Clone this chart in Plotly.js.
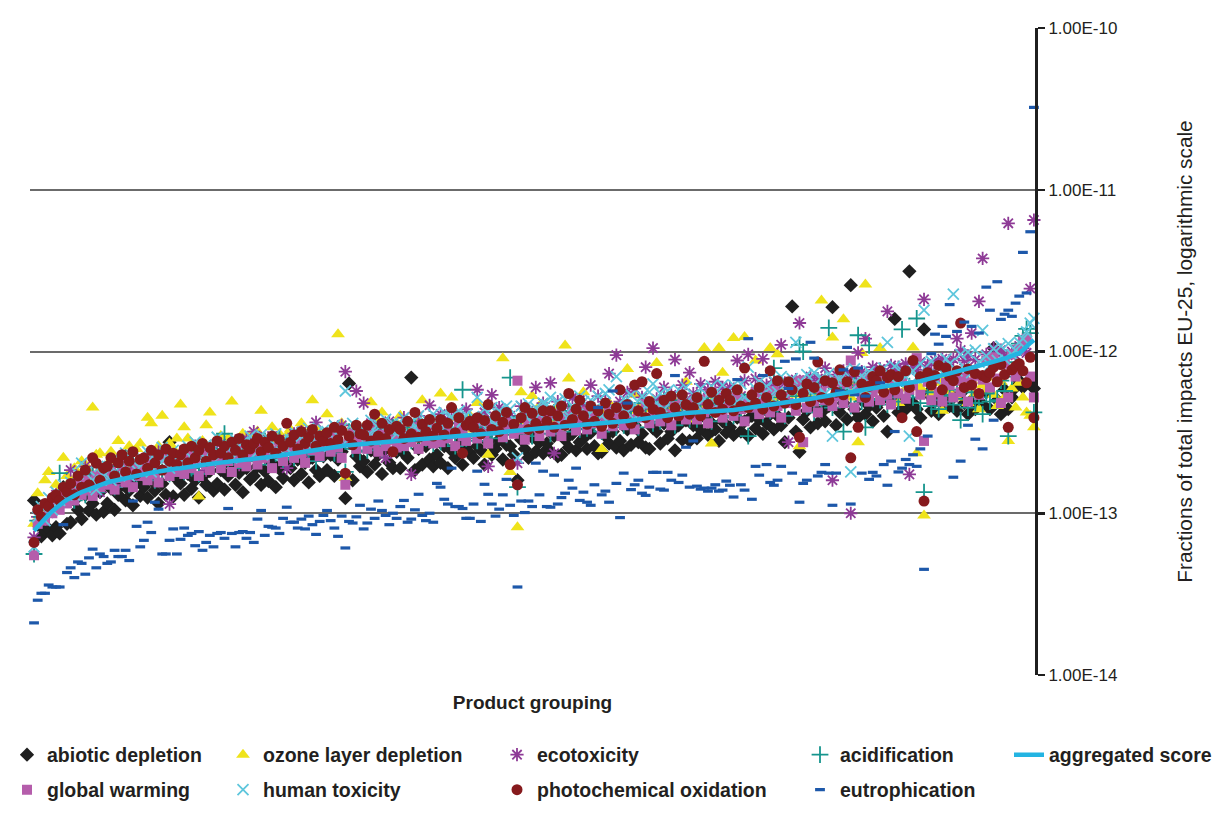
<!DOCTYPE html>
<html><head><meta charset="utf-8">
<script src="https://cdn.plot.ly/plotly-3.0.1.min.js"></script>
<style>html,body{margin:0;padding:0;background:#fff}#chart{width:1215px;height:823px}</style>
</head><body><div id="chart"></div>
<script>
// values in units of 1e-13 (fractions of total impacts EU-25)
const UNIT = 1e-13;
const yTickVals = [1e-14, 1e-13, 1e-12, 1e-11, 1e-10];
const yTickText = ['1.00E-14', '1.00E-13', '1.00E-12', '1.00E-11', '1.00E-10'];

const aggregated = [
0.78,0.83,0.88,0.93,0.98,1.03,1.08,1.13,1.17,1.21,
1.25,1.29,1.32,1.35,1.38,1.41,1.44,1.47,1.5,1.53,
1.55,1.57,1.59,1.61,1.63,1.65,1.67,1.69,1.71,1.73,
1.75,1.77,1.78,1.8,1.81,1.83,1.84,1.86,1.87,1.89,
1.9,1.92,1.93,1.95,1.96,1.98,1.99,2.0,2.02,2.03,
2.04,2.06,2.07,2.08,2.1,2.11,2.12,2.14,2.15,2.16,
2.17,2.19,2.2,2.21,2.22,2.24,2.25,2.27,2.29,2.31,
2.33,2.35,2.37,2.39,2.41,2.43,2.45,2.47,2.49,2.51,
2.53,2.55,2.57,2.59,2.61,2.62,2.63,2.65,2.66,2.67,
2.68,2.7,2.71,2.72,2.74,2.75,2.76,2.77,2.79,2.8,
2.81,2.82,2.83,2.85,2.86,2.87,2.88,2.89,2.9,2.91,
2.92,2.93,2.94,2.95,2.96,2.97,2.98,2.99,3.0,3.01,
3.02,3.03,3.05,3.07,3.09,3.11,3.13,3.16,3.18,3.2,
3.22,3.24,3.26,3.27,3.29,3.3,3.32,3.33,3.35,3.36,
3.38,3.39,3.41,3.42,3.44,3.45,3.47,3.48,3.5,3.52,
3.53,3.55,3.56,3.57,3.58,3.59,3.6,3.61,3.62,3.64,
3.66,3.69,3.72,3.75,3.78,3.81,3.84,3.87,3.9,3.93,
3.96,3.99,4.02,4.05,4.08,4.11,4.13,4.15,4.17,4.18,
4.19,4.2,4.21,4.22,4.23,4.24,4.26,4.28,4.3,4.31,
4.33,4.35,4.38,4.41,4.44,4.47,4.5,4.53,4.56,4.6,
4.63,4.66,4.7,4.74,4.78,4.82,4.86,4.9,4.94,4.98,
5.02,5.06,5.1,5.15,5.2,5.25,5.3,5.35,5.4,5.45,
5.5,5.55,5.6,5.65,5.7,5.75,5.8,5.85,5.9,5.95,
6.0,6.04,6.08,6.12,6.16,6.2,6.24,6.28,6.32,6.36,
6.4,6.48,6.56,6.65,6.75,6.85,6.95,7.05,7.15,7.25,
7.35,7.45,7.55,7.65,7.75,7.85,7.95,8.05,8.15,8.25,
8.35,8.45,8.6,8.75,8.9,9.05,9.2,9.35,9.55,9.75,
10.2,10.8,11.3,11.8];

const abiotic = [
1.2,0.85,0.72,0.78,0.8,0.73,0.82,0.75,1.45,0.86,
0.88,1.2,1.05,0.92,1.3,1.04,1.15,0.98,1.35,1.02,
1.15,1.42,1.05,1.3,1.5,1.2,1.38,1.12,1.55,1.28,
1.45,1.25,1.6,1.38,1.15,1.52,1.3,2.75,1.27,1.62,
1.53,1.3,1.75,1.42,1.6,1.25,1.68,1.5,1.82,1.38,
1.52,1.85,1.4,1.7,1.95,1.5,1.78,1.35,1.9,1.62,
1.7,1.95,1.5,1.82,1.58,2.05,1.45,1.88,1.65,2.0,
1.9,1.6,2.15,1.75,2.05,1.55,2.2,1.85,1.7,2.25,
1.85,2.3,1.7,2.15,2.4,1.24,6.35,1.6,2.25,1.95,
2.1,1.8,2.45,2.0,2.3,1.75,2.5,2.05,1.9,2.4,
1.9,2.35,2.2,6.9,1.85,2.5,2.0,2.6,2.15,1.95,
2.3,2.05,2.6,1.9,2.45,2.2,2.7,2.0,2.55,2.35,
2.2,2.6,2.45,2.0,2.75,2.3,2.5,2.85,2.15,2.65,
2.6,2.3,1.6,2.85,2.5,2.2,2.95,2.4,2.75,2.35,
2.7,2.4,3.0,2.25,2.3,2.85,2.55,3.1,2.45,2.75,
2.9,2.5,3.15,2.6,2.35,2.4,3.0,2.7,3.2,2.55,
2.8,2.45,3.3,2.65,3.5,2.75,3.1,2.55,2.5,3.35,
3.2,2.7,3.6,2.9,3.2,2.45,3.5,2.85,3.75,2.8,
3.5,2.9,3.3,3.95,3.05,3.6,3.3,2.8,3.7,3.15,
3.4,3.05,3.9,3.2,3.7,3.0,4.0,3.35,3.8,3.1,
3.6,4.1,3.3,4.0,3.5,2.75,3.9,19,3.2,2.4,
3.8,4.3,3.4,4.5,3.6,4.2,3.7,4.6,18.8,3.5,
4.2,4.8,3.8,25.7,4.4,3.9,5.0,4.1,4.6,3.7,
4.5,4.9,4.0,3.2,5.1,15.9,4.2,4.8,4.4,31.3,
4.8,4.4,3.9,13.7,5.5,4.3,4.9,4.1,5.0,4.6,
4.6,5.2,4.3,5.5,4.8,4.1,5.0,4.4,5.3,4.7,
5.6,4.4,10.5,5.0,4.1,5.8,4.4,5.2,6.0,6.6,
6.0,6.4,6.6,5.9];

const ozoneDepletion = [
0.86,1.33,1.0,1.6,1.8,1.25,1.5,1.4,2.2,1.7,
1.6,1.9,1.55,2.1,2.0,1.8,4.5,2.3,2.35,1.9,
2.0,2.4,2.1,2.8,2.0,2.3,2.6,1.9,2.5,2.7,
2.2,3.9,3.6,2.4,2.6,4.0,2.3,2.7,2.5,2.9,
4.7,3.4,2.9,2.4,2.6,1.27,2.8,3.5,4.2,2.5,
2.7,3.0,2.4,2.9,4.9,2.6,2.8,3.1,2.5,3.0,
2.6,3.2,4.3,2.9,2.5,3.4,2.8,3.1,2.7,3.0,
3.3,3.0,2.8,3.6,2.9,3.2,5.0,3.4,3.1,2.7,
4.1,3.0,3.3,12.8,3.6,1.65,3.2,2.9,3.5,3.1,
3.4,3.0,4.85,3.3,3.7,4.2,3.1,3.5,2.9,3.6,
4.0,3.2,3.6,3.4,3.0,3.8,5.0,3.3,3.7,3.5,
3.2,5.5,3.6,3.4,5.2,3.9,3.3,3.7,3.5,4.0,
3.3,4.8,3.6,3.9,2.3,3.5,3.8,4.2,9.1,3.6,
1.8,3.4,0.82,5.6,3.7,4.0,5.3,3.5,4.6,3.9,
4.2,3.6,4.4,3.8,4.0,10.9,6.8,4.3,4.1,4.5,
5.6,4.0,4.6,3.8,4.3,2.5,4.2,4.8,4.0,4.4,
4.1,4.6,7.8,4.3,5.4,4.5,4.2,4.8,4.4,5.0,
8.5,4.6,4.9,4.4,5.2,4.7,4.3,5.0,6.5,3.8,
4.6,5.0,4.4,10.5,4.8,2.7,5.2,10.5,7.4,4.7,
5.0,12.1,4.6,5.3,12.3,4.9,5.5,8.8,4.7,5.1,
5.3,10.5,5.0,9.6,5.6,5.2,4.8,5.8,5.4,2.6,
5.6,5.1,6.0,5.4,5.8,20.7,5.2,6.2,12.2,5.7,
5.4,15.8,5.9,5.2,6.1,2.75,9.8,26,5.6,6.3,
5.8,10.5,5.4,6.6,5.7,6.0,4.8,6.4,5.9,6.2,
10.6,2.35,6.0,0.97,6.8,5.5,7.2,6.4,4.3,7.0,
5.6,6.4,5.2,7.0,5.9,4.8,6.6,5.5,4.4,6.2,
5.8,6.9,5.4,4.6,6.5,5.2,2.8,5.9,4.5,6.4,
5.2,4.2,4.0,3.4];

const ecotoxicity = [
0.71,0.95,0.9,1.1,1.0,1.15,1.3,1.25,1.2,1.4,
1.85,1.3,1.6,1.45,1.95,1.4,1.75,1.55,1.35,1.8,
1.65,1.95,1.5,2.1,1.7,2.25,1.6,1.9,2.05,1.75,
2.0,1.7,2.25,1.9,2.4,1.8,2.3,1.14,2.2,1.95,
2.1,2.45,1.9,2.3,2.6,2.0,2.4,1.85,2.55,2.2,
2.2,2.7,2.1,2.5,2.35,2.8,2.0,2.6,2.9,2.3,
3.2,2.4,2.9,2.2,2.7,3.0,2.45,2.85,2.3,1.9,
2.7,3.1,2.4,3.2,2.3,2.9,2.6,3.65,2.5,3.0,
3.0,2.6,3.3,2.75,3.5,7.5,2.7,3.2,5.7,2.9,
4.8,3.1,3.6,2.8,3.4,3.0,2.2,3.7,2.9,3.5,
3.3,3.9,3.0,1.74,3.6,4.0,3.2,3.4,4.65,3.1,
3.4,4.1,3.2,3.8,4.3,3.1,3.9,3.3,4.4,3.6,
3.7,5.8,3.4,4.2,1.95,5.4,3.6,4.5,3.3,4.1,
4.0,3.5,2.04,4.6,3.8,4.3,3.6,6.0,4.0,4.8,
4.3,6.4,2.35,4.9,3.9,4.6,4.1,5.2,3.8,5.0,
4.6,4.0,6.2,4.4,5.3,3.9,4.9,7.3,4.2,9.5,
4.9,4.2,5.6,4.5,5.9,4.3,5.2,8.0,4.6,10.5,
5.1,4.5,6.0,4.8,5.4,8.9,4.6,6.2,5.0,7.4,
5.5,4.7,6.3,5.0,5.8,4.6,6.5,5.2,6.0,4.8,
6.0,5.0,8.8,5.3,6.6,9.6,5.1,6.8,5.5,9.0,
6.2,5.9,6.5,6.0,11,6.4,2.75,6.1,6.7,15,
6.5,6.2,7.0,6.4,6.8,6.3,7.9,6.6,1.6,7.2,
6.8,7.6,7.3,1.0,7.0,9.8,7.5,12,7.1,8.0,
7.4,7.8,7.2,17.7,8.2,7.6,8.0,7.3,8.4,1.74,
8.0,7.7,8.6,21,8.2,7.5,8.8,8.4,9.0,8.1,
8.6,9.0,12,10.2,8.8,9.4,13,8.9,20.4,37.6,
9.6,9.0,10.5,9.8,10.2,9.4,62,10.0,9.5,10.8,
10.5,9.8,24.5,65];

const acidification = [
0.56,0.9,0.95,1.0,1.05,1.1,1.2,1.77,1.3,1.25,
1.4,1.2,1.6,1.7,1.3,1.55,1.75,1.35,1.65,1.5,
1.6,1.85,1.45,1.95,1.7,2.2,1.5,2.0,1.65,2.05,
1.95,1.7,2.2,1.6,2.1,1.8,2.3,1.75,2.2,1.9,
2.1,1.8,2.4,1.9,2.25,1.75,2.35,2.0,2.5,1.95,
2.25,2.5,3.1,2.0,2.6,1.9,2.45,2.7,2.1,2.55,
2.1,2.6,2.25,2.8,2.0,2.55,2.35,2.9,2.15,2.7,
2.6,2.2,2.9,2.4,2.95,2.3,2.75,2.1,2.85,2.5,
2.7,3.0,2.35,3.1,2.6,1.8,3.2,2.5,3.0,2.4,
2.9,2.45,3.2,2.6,3.35,2.5,3.1,2.7,3.4,2.55,
3.1,2.6,3.4,2.8,3.55,2.65,3.25,2.9,3.5,2.7,
3.2,2.75,3.5,2.95,3.3,2.6,3.6,5.8,2.9,3.7,
3.4,2.8,3.75,3.0,3.5,2.9,3.9,3.15,3.6,3.05,
6.9,3.3,1.45,3.95,3.1,3.7,3.0,4.1,3.35,3.8,
3.8,3.1,4.2,3.4,3.9,3.2,4.3,3.5,4.0,3.3,
3.9,3.35,4.4,3.6,4.1,3.2,4.5,3.7,4.2,3.4,
4.1,3.5,4.6,3.8,4.3,3.4,4.8,3.9,4.5,3.6,
4.3,3.7,4.9,4.0,4.6,3.5,5.0,4.1,4.7,3.8,
4.5,3.8,5.1,4.1,4.8,3.7,5.2,4.2,4.9,3.9,
4.7,4.0,5.3,4.3,4.9,3.0,5.4,4.4,5.0,4.1,
4.9,4.3,7.9,4.5,5.2,4.0,5.6,4.6,5.3,11,
10.0,4.6,5.5,4.2,5.8,4.7,5.4,14,4.5,5.9,
5.8,3.2,6.0,4.6,6.2,12.6,4.9,3.4,10.9,5.1,
6.3,5.0,6.6,4.7,6.8,5.2,4.9,13.7,5.4,6.1,
5.2,16,4.8,1.35,5.6,4.6,5.0,4.4,5.4,4.9,
5.3,4.7,5.8,3.76,5.1,4.5,5.6,4.8,5.2,4.1,
5.5,4.9,6.2,5.0,6.6,5.7,3.0,7.0,8.6,11.2,
12.5,13.8,13,4.2];

const globalWarming = [
0.55,0.86,0.95,0.9,1.08,1.0,1.2,1.05,1.3,1.15,
1.35,1.2,1.5,1.3,1.6,1.4,1.28,1.7,1.45,1.55,
1.5,1.8,1.4,1.65,1.95,1.55,1.75,1.45,1.9,1.7,
1.9,1.6,2.1,1.75,1.55,2.2,1.85,1.7,2.05,1.8,
2.05,1.75,2.3,1.9,2.15,1.7,2.4,2.0,1.85,2.25,
2.2,1.9,2.5,2.1,1.8,2.35,2.05,2.6,1.95,2.3,
2.4,2.0,2.65,2.2,2.5,1.9,2.35,2.7,2.1,2.55,
2.5,2.2,2.8,2.35,2.05,2.65,2.45,2.9,2.25,2.7,
2.8,2.4,3.0,2.55,2.2,1.5,2.75,3.1,2.5,2.9,
2.95,2.5,3.2,2.7,2.4,3.05,2.6,3.3,2.85,2.55,
3.25,2.6,3.0,2.75,3.4,2.5,3.15,2.8,3.5,2.7,
3.3,2.75,3.55,2.9,3.1,2.6,3.45,3.0,2.8,3.6,
3.45,2.9,3.7,3.1,2.7,3.55,3.25,3.8,2.95,3.4,
3.6,3.1,6.6,3.3,2.85,3.75,3.4,3.95,3.0,3.65,
3.85,3.2,4.1,3.45,3.0,3.9,3.6,4.2,3.25,3.7,
4.25,3.3,3.9,3.6,4.3,3.1,3.75,4.4,3.45,4.0,
4.4,3.5,4.6,3.8,3.3,4.2,3.9,4.75,3.6,4.3,
4.55,3.7,4.9,4.1,3.5,4.6,4.0,5.1,3.8,4.4,
4.9,3.8,5.05,4.2,3.6,5.6,4.3,5.2,3.9,4.7,
5.1,4.0,5.4,4.4,3.7,4.9,4.5,5.6,4.1,5.0,
5.5,4.2,5.7,4.6,3.9,5.2,4.8,6.0,4.3,6.6,
2.75,4.5,6.1,4.9,4.2,5.6,5.0,6.4,4.6,5.3,
6.5,4.8,6.3,8.8,4.5,5.9,5.2,6.8,4.9,5.6,
6.0,5.0,6.6,5.4,4.7,6.2,5.5,6.9,5.1,5.8,
6.2,9.1,5.4,2.8,6.5,5.0,6.8,5.6,4.9,6.4,
6.2,5.2,6.6,5.6,6.9,4.9,6.4,7.1,5.4,6.7,
8.8,6.0,9.2,6.8,4.8,8.4,5.2,9.6,7.0,10.4,
11.5,12,7.0,5.2];

const humanToxicity = [
0.62,0.95,1.1,0.9,1.25,1.05,1.35,1.2,1.5,1.3,
1.55,1.3,1.75,2.04,1.45,1.85,1.6,1.4,1.95,1.7,
1.95,1.6,2.2,1.75,2.0,2.35,1.7,2.1,1.85,2.25,
2.1,2.4,1.8,2.3,2.0,2.55,2.2,1.9,2.45,2.15,
2.3,2.05,2.6,2.2,2.75,2.4,2.1,2.65,2.35,2.5,
2.95,2.3,2.7,2.5,2.2,2.85,2.4,2.75,2.6,3.0,
2.7,2.4,3.05,2.55,2.9,2.3,3.1,2.65,2.85,2.5,
2.85,3.2,2.6,3.0,2.7,3.35,2.8,3.1,2.6,3.25,
3.2,2.8,3.5,3.0,3.35,5.7,2.9,3.6,3.15,3.4,
3.4,3.0,3.75,3.2,3.55,2.9,3.8,3.3,3.6,3.1,
3.55,3.9,3.2,3.7,3.4,4.0,3.3,3.8,3.5,4.1,
3.9,3.4,4.2,3.6,3.95,3.3,4.3,3.7,4.05,3.5,
3.95,5.2,3.6,4.4,3.8,4.5,3.55,4.3,3.9,4.6,
4.4,3.8,2.2,4.6,4.0,4.75,3.7,4.5,4.1,4.8,
4.7,5.2,3.9,4.9,4.2,5.1,4.0,4.6,4.3,5.3,
4.9,4.1,5.0,4.4,5.3,4.0,5.5,5.8,4.5,7.0,
4.5,5.1,4.2,5.4,4.7,4.1,5.3,4.6,5.6,6.3,
4.8,5.5,4.4,5.7,5.0,4.3,5.8,4.9,6.0,4.6,
5.4,4.7,5.9,5.1,4.6,6.1,5.3,4.8,6.2,5.0,
5.5,6.2,4.9,6.3,5.2,8.0,4.8,5.9,6.5,5.4,
6.1,5.3,6.6,5.6,7.0,5.1,6.2,6.8,11.4,5.8,
6.3,7.2,5.6,7.4,6.0,6.9,5.5,7.3,3.0,6.6,
6.7,7.6,6.0,1.8,7.8,6.3,7.1,5.9,7.5,6.5,
7.2,6.4,7.9,11.4,6.8,8.1,6.5,7.6,7.0,3.0,
7.6,6.9,8.4,18,7.2,8.7,6.8,8.0,7.4,9.0,
8.4,22.6,7.6,9.6,8.0,9.9,7.4,10.2,8.6,13.5,
9.4,8.2,10.4,8.8,10.8,9.0,11.2,9.6,10.2,11.4,
12.0,13.2,15,16];

const photochemOxidation = [
0.66,1.05,0.95,1.15,1.1,1.25,1.3,1.2,1.45,1.35,
1.53,1.3,1.7,1.45,1.85,1.5,2.2,2.04,1.6,1.9,
1.95,2.2,1.7,2.05,2.3,1.8,2.1,2.4,1.75,2.15,
2.2,1.9,2.45,2.05,2.3,1.85,2.5,2.1,2.35,2.0,
2.3,2.5,2.05,2.6,2.2,2.45,2.7,2.1,2.55,2.3,
2.8,2.35,2.6,2.2,2.75,2.45,2.9,2.3,2.65,2.5,
2.7,2.9,2.4,2.75,2.55,3.0,2.35,2.85,2.6,3.6,
2.75,3.05,2.5,3.2,2.7,2.95,3.3,2.6,3.0,2.8,
3.15,2.7,3.4,2.85,3.25,1.77,3.0,2.65,3.5,3.1,
3.05,3.5,2.8,4.1,3.0,3.6,2.9,3.3,2.4,3.45,
3.3,2.9,3.7,3.1,4.2,2.95,3.55,3.2,3.8,3.0,
3.35,3.8,3.05,3.6,4.5,3.15,3.9,2.35,3.5,3.7,
3.4,3.9,3.1,3.75,4.7,3.3,4.0,3.2,3.65,4.2,
2.0,3.55,1.5,3.9,4.5,3.3,4.15,3.6,3.35,4.3,
3.7,4.3,3.4,4.0,4.6,3.5,5.5,3.8,4.4,5.0,
4.0,3.55,4.6,3.7,4.3,3.45,4.8,4.1,3.6,4.5,
5.8,4.0,4.7,3.6,6.2,4.3,6.5,3.9,4.9,4.4,
7.3,4.2,5.0,3.9,5.3,4.5,4.0,5.4,4.7,4.1,
4.5,5.2,4.0,8.7,4.7,5.6,4.2,5.0,4.4,5.5,
5.0,4.3,5.8,4.6,7.9,4.5,5.4,4.8,6.0,4.4,
5.2,7.6,4.6,6.6,5.4,4.8,6.5,5.8,4.7,2.95,
5.5,6.3,4.9,6.0,8.6,5.2,6.6,5.0,6.4,5.6,
7.7,5.4,6.5,2.2,7.5,3.4,6.3,5.2,6.1,7.0,
6.6,7.6,5.6,6.9,7.2,5.8,7.0,3.9,7.6,6.0,
8.8,3.2,7.0,1.19,7.4,6.2,7.1,8.2,5.8,7.9,
7.0,6.6,7.6,15,6.0,7.8,6.2,7.3,5.5,7.1,
6.9,7.4,8.0,6.5,8.3,7.2,3.4,7.7,8.1,8.4,
7.6,6.4,9.2,3.9];

const eutrophication = [
0.21,0.29,0.32,0.32,0.36,0.35,0.35,0.35,0.85,0.43,
0.46,0.40,0.50,0.49,0.42,0.53,0.60,0.46,0.56,0.54,
0.49,0.50,0.59,0.54,0.54,0.59,0.51,1.19,0.83,0.62,
0.68,0.88,0.76,1.17,1.06,0.56,0.56,0.68,0.80,0.56,
0.69,0.81,0.73,0.75,0.63,0.77,0.59,0.66,0.73,0.62,
0.75,0.76,0.70,1.07,0.75,0.62,0.76,0.77,0.70,0.76,
0.66,0.92,1.04,0.73,0.83,0.82,0.81,0.75,0.93,1.09,
0.88,0.88,0.81,0.92,0.80,0.96,0.85,0.74,0.89,0.97,
1.04,0.90,0.81,0.72,0.96,0.61,0.89,0.87,0.95,1.12,
0.80,0.87,1.06,0.93,1.19,1.04,0.97,0.85,1.0,0.93,
1.10,1.20,0.88,0.92,1.05,1.31,0.97,0.90,1.0,0.88,
1.53,1.45,1.22,1.14,1.90,1.10,1.10,1.07,0.93,0.93,
1.14,1.82,0.89,1.51,1.31,1.14,0.96,1.06,1.3,1.62,
1.12,0.97,0.35,1.19,1.01,1.19,1.10,2.04,1.3,1.82,
1.1,1.09,1.72,1.14,1.25,1.33,1.60,1.43,1.90,1.2,
1.35,1.17,1.12,1.5,4.5,1.3,1.37,1.17,5.7,1.53,
0.94,1.77,4.8,1.4,1.5,1.6,1.33,1.29,1.45,1.79,
1.79,1.41,1.39,1.79,1.6,7.1,1.55,1.72,2.56,1.45,
2.8,1.47,1.41,1.43,1.37,1.43,1.5,1.37,1.39,1.58,
1.49,1.26,6.7,1.5,1.39,12.0,1.22,1.95,1.72,7.1,
2.0,1.55,1.49,1.6,1.95,8.7,5.9,1.77,9.0,1.17,
1.53,1.60,11.4,9.1,1.7,1.79,2.0,1.77,1.12,1.77,
5.7,7.7,10.6,1.14,5.4,7.9,1.77,5.3,1.62,1.79,
1.70,6.4,2.0,1.49,2.1,3.2,1.8,1.90,2.15,2.0,
2.3,1.95,2.5,0.45,3.0,9.7,12.8,11.1,14.3,12.4,
19.5,1.67,13.3,2.1,15.2,3.5,14.3,2.87,13,2.5,
25,18,3.76,27,15.8,17.0,18,16.5,19.9,22,
41,23,55,323];

const N = aggregated.length;
const products = Array.from({length: N}, (_, i) => i + 1);
const toY = arr => arr.map(v => v * UNIT);

const SANS = '"Liberation Sans", Arial, Helvetica, sans-serif';
const TXT = '#231f20';

function sc(name, data, legendId, marker) {
  return {type: 'scatter', mode: 'markers', name: name, x: products, y: toY(data),
          legend: legendId, marker: marker, hoverinfo: 'skip', cliponaxis: false};
}

const traces = [
  sc('abiotic depletion', abiotic, 'legend', {symbol: 'diamond', size: 11, color: '#1f1f1f', line: {width: 0}}),
  sc('ozone layer depletion', ozoneDepletion, 'legend2', {symbol: 'triangle-up', size: 12, color: '#efe31b', line: {width: 0}}),
  sc('ecotoxicity', ecotoxicity, 'legend3', {symbol: 'asterisk-open', size: 11, color: '#8e3a96', line: {width: 1.8, color: '#8e3a96'}}),
  sc('acidification', acidification, 'legend4', {symbol: 'cross-thin-open', size: 12, color: '#16958d', line: {width: 1.8, color: '#16958d'}}),
  sc('global warming', globalWarming, 'legend6', {symbol: 'square', size: 10, color: '#b55dab', line: {width: 0}}),
  sc('human toxicity', humanToxicity, 'legend7', {symbol: 'x-thin-open', size: 11, color: '#5ec6dc', line: {width: 1.8, color: '#5ec6dc'}}),
  sc('photochemical oxidation', photochemOxidation, 'legend8', {symbol: 'circle', size: 11, color: '#861a1d', line: {width: 0}}),
  sc('eutrophication', eutrophication, 'legend9', {symbol: 'line-ew-open', size: 7, color: '#1d58aa', line: {width: 3.2, color: '#1d58aa'}}),
  {type: 'scatter', mode: 'lines', name: 'aggregated score', x: products, y: toY(aggregated),
   legend: 'legend5', line: {color: '#23b4e2', width: 4.5}, hoverinfo: 'skip'}
];

// plot area: 30..1035 px horizontally, 28..675 px vertically
function legendAt(leftPx, midPx) {
  return {x: (leftPx - 30) / 1005, y: (675 - midPx) / 647, xanchor: 'left', yanchor: 'middle',
          orientation: 'v', bgcolor: 'rgba(0,0,0,0)', borderwidth: 0,
          font: {family: SANS, size: 19.5, color: TXT, weight: 'bold'}};
}
const colText = [47, 263, 537, 840, 1049];
const rowMid = [755, 790];

const layout = {
  width: 1215, height: 823,
  paper_bgcolor: '#ffffff', plot_bgcolor: '#ffffff',
  margin: {l: 30, r: 180, t: 28, b: 148, autoexpand: false},
  hovermode: false,
  showlegend: true,
  xaxis: {range: [-0.1, N + 0.3], showgrid: false, zeroline: false, showticklabels: false,
          ticks: '', showline: false,
          title: {text: '<b>Product grouping</b>', standoff: 20,
                  font: {family: SANS, size: 19, color: TXT}}},
  yaxis: {type: 'log', range: [-14, -10], side: 'right',
          tickvals: yTickVals, ticktext: yTickText,
          showgrid: true, gridcolor: '#6b6b6b', gridwidth: 2,
          showline: true, linecolor: '#1f1f1f', linewidth: 3,
          ticks: 'outside', ticklen: 7, tickwidth: 2.5, tickcolor: '#1f1f1f',
          tickfont: {family: SANS, size: 17, color: TXT},
          zeroline: false,
          title: {text: 'Fractions of total impacts EU-25, logarithmic scale', standoff: 62,
                  font: {family: SANS, size: 20.8, color: TXT}}},
  legend: legendAt(colText[0] - 40, rowMid[0]),
  legend2: legendAt(colText[1] - 40, rowMid[0]),
  legend3: legendAt(colText[2] - 40, rowMid[0]),
  legend4: legendAt(colText[3] - 40, rowMid[0]),
  legend5: legendAt(colText[4] - 40, rowMid[0]),
  legend6: legendAt(colText[0] - 40, rowMid[1]),
  legend7: legendAt(colText[1] - 40, rowMid[1]),
  legend8: legendAt(colText[2] - 40, rowMid[1]),
  legend9: legendAt(colText[3] - 40, rowMid[1])
};

Plotly.newPlot('chart', traces, layout, {displayModeBar: false, staticPlot: true});
</script>
</body></html>
